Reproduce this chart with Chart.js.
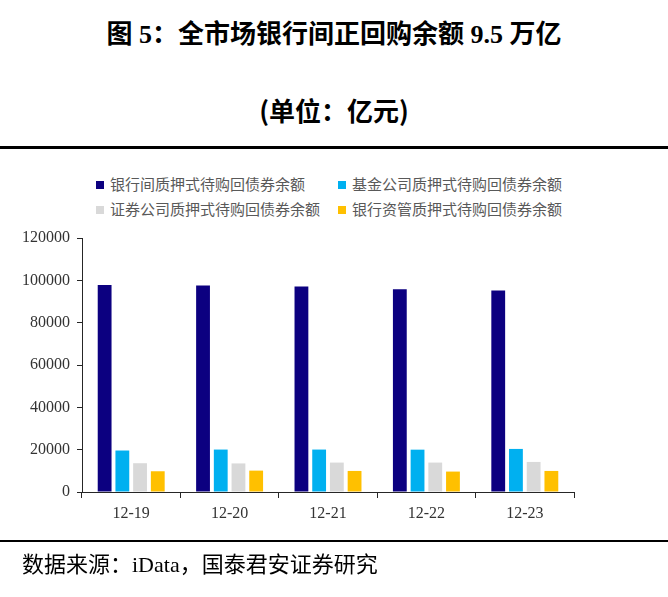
<!DOCTYPE html>
<html><head><meta charset="utf-8">
<script src="https://cdn.jsdelivr.net/npm/chart.js@4.4.1/dist/chart.umd.min.js"></script>
<style>
html,body{margin:0;padding:0;background:#fff;}
#wrap{position:relative;width:668px;height:597px;overflow:hidden;}
.t{position:absolute;left:0;width:668px;text-align:center;font-weight:bold;color:#000;font-family:"Liberation Serif","Noto Sans CJK SC",serif;white-space:nowrap;}
.rule{position:absolute;left:0;width:668px;background:#000;}
#legend{position:absolute;left:0;top:0;}
.li{position:absolute;font-family:"Noto Sans CJK SC",sans-serif;font-size:15px;color:#595959;white-space:nowrap;line-height:15px;}
.li span{display:inline-block;width:8px;height:8px;margin-right:6px;vertical-align:1px;}
#src{position:absolute;left:22px;top:546px;font-family:"Liberation Serif","Noto Sans CJK SC",serif;font-size:22px;color:#000;white-space:nowrap;}
canvas{position:absolute;left:0;top:0;}
</style></head>
<body><div id="wrap">
<div class="t" style="top:19px;font-size:26px;line-height:32px;">图 5：全市场银行间正回购余额 9.5 万亿</div>
<div class="t" style="top:94px;font-size:26px;line-height:32px;font-family:'Noto Sans CJK SC',sans-serif;">(单位：亿元)</div>
<div class="rule" style="top:146px;height:3px;"></div>
<div id="legend"></div>
<canvas id="c" width="668" height="597"></canvas>
<div class="rule" style="top:540px;height:2px;"></div>
<div id="src">数据来源：iData，国泰君安证券研究</div>
</div>
<script>
const categories = ['12-19','12-20','12-21','12-22','12-23'];
const seriesNames = ['银行间质押式待购回债券余额','基金公司质押式待购回债券余额','证券公司质押式待购回债券余额','银行资管质押式待购回债券余额'];
const interbank = [97800, 97600, 97100, 95800, 95200];
const fundCo = [19600, 20050, 20050, 20000, 20350];
const securitiesCo = [13600, 13500, 13900, 13900, 14200];
const bankAM = [9800, 10100, 9950, 9650, 9950];
const yTicks = [0, 20000, 40000, 60000, 80000, 100000, 120000];
const colors = ['#0C0080','#00B0F0','#D9D9D9','#FFC000'];
const seriesData = [interbank, fundCo, securitiesCo, bankAM];

// legend
const legPos = [[96,176],[338,176],[96,201],[338,201]];
const leg = document.getElementById('legend');
seriesNames.forEach((n,i)=>{
  const d = document.createElement('div');
  d.className='li';
  d.style.left = legPos[i][0]+'px';
  d.style.top = legPos[i][1]+'px';
  d.innerHTML = '<span style="background:'+colors[i]+'"></span>'+n;
  leg.appendChild(d);
});

new Chart(document.getElementById('c'), {
  type: 'bar',
  data: {
    labels: categories,
    datasets: seriesData.map((d,i)=>({
      label: seriesNames[i], data: d, backgroundColor: colors[i],
      categoryPercentage: 0.72, barPercentage: 0.78
    }))
  },
  options: {
    responsive: false,
    animation: false,
    layout: { padding: { top: 238, left: 0, right: 94, bottom: 0 } },
    plugins: { legend: { display: false }, tooltip: { enabled: false } },
    scales: {
      x: {
        afterFit: s => { s.height = 105; },
        grid: { display: true, offset: true, drawOnChartArea: false, drawTicks: true, tickLength: 6, color: '#262626', lineWidth: 1 },
        border: { display: true, color: '#262626', width: 1 },
        ticks: { color: '#333', padding: 6, font: { family: 'Liberation Serif', size: 16 } }
      },
      y: {
        min: 0, max: 120000,
        afterFit: s => { s.width = 82; },
        afterBuildTicks: s => { s.ticks = yTicks.map(v => ({ value: v })); },
        grid: { display: true, drawOnChartArea: false, drawTicks: true, tickLength: 5, color: '#262626', lineWidth: 1 },
        border: { display: true, color: '#262626', width: 1 },
        ticks: { color: '#333', padding: 7, font: { family: 'Liberation Serif', size: 16 }, callback: v => String(v) }
      }
    }
  }
});
</script>
</body></html>
